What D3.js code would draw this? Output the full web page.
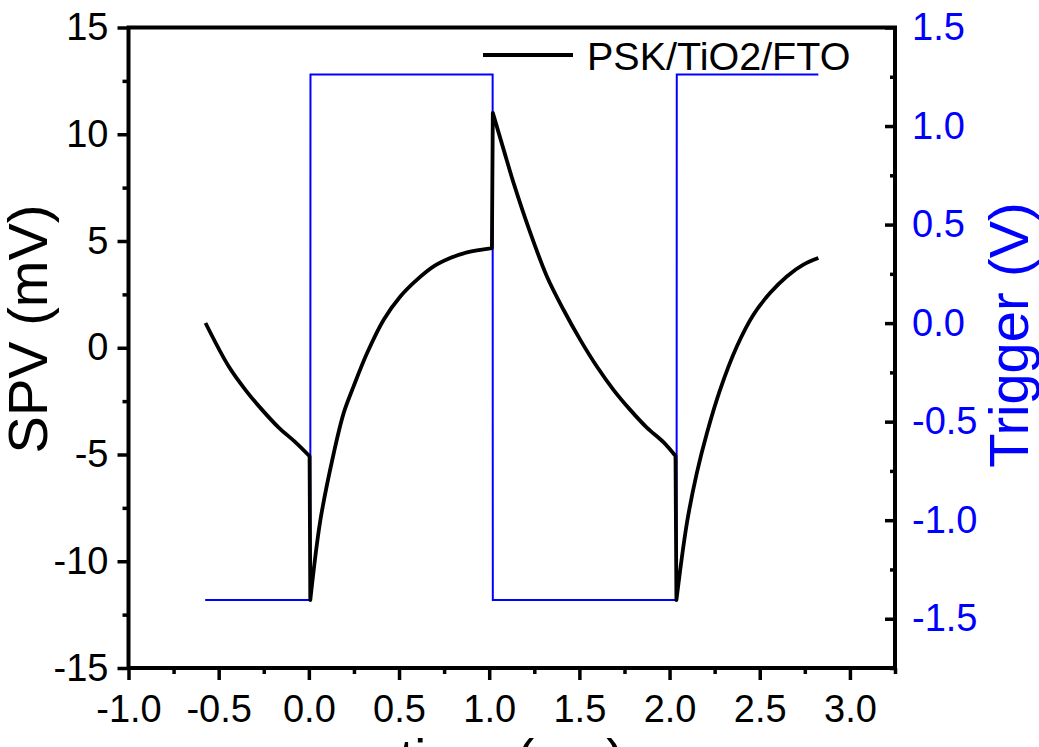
<!DOCTYPE html>
<html>
<head>
<meta charset="utf-8">
<script src="https://cdn.jsdelivr.net/npm/d3@7"></script>
<style>
  html, body { margin: 0; padding: 0; background: #fff; }
  svg { display: block; }
  text { font-family: "Liberation Sans", Arial, sans-serif; }
</style>
</head>
<body>
<svg id="chart" width="1039" height="747"></svg>
<script>
// ---- data ----
const spvTime = [-0.573, -0.444, -0.352, -0.259, -0.167, -0.075, 0.004, 0.008, 0.064, 0.138, 0.193, 0.248, 0.323, 0.415, 0.507, 0.600, 0.692, 0.784, 0.877, 1.015, 1.020, 1.080, 1.135, 1.228, 1.320, 1.412, 1.505, 1.597, 1.689, 1.782, 1.874, 1.966, 2.033, 2.038, 2.096, 2.151, 2.207, 2.280, 2.373, 2.465, 2.557, 2.650, 2.742, 2.825];
const spvValue = [1.16, -0.88, -1.97, -2.91, -3.74, -4.42, -5.08, -11.82, -8.07, -4.94, -3.06, -1.81, -0.25, 1.31, 2.40, 3.19, 3.81, 4.20, 4.47, 4.67, 11.00, 9.28, 7.72, 5.38, 3.34, 1.78, 0.37, -0.88, -1.97, -2.91, -3.74, -4.42, -5.07, -11.82, -8.22, -5.87, -4.00, -1.97, 0.06, 1.55, 2.56, 3.34, 3.89, 4.20];
const trigTime = [-0.575, 0.008, 0.009, 1.019, 1.020, 2.039, 2.040, 2.825];
const trigValue = [-1.405, -1.405, 1.261, 1.261, -1.405, -1.405, 1.261, 1.261];
const xTicks = [-1.0, -0.5, 0.0, 0.5, 1.0, 1.5, 2.0, 2.5, 3.0];
const xMinor = [-0.75, -0.25, 0.25, 0.75, 1.25, 1.75, 2.25, 2.75, 3.25];
const yTicks = [-15, -10, -5, 0, 5, 10, 15];
const yMinor = [-12.5, -7.5, -2.5, 2.5, 7.5, 12.5];
const y2Ticks = [-1.5, -1.0, -0.5, 0.0, 0.5, 1.0, 1.5];
const y2Minor = [-1.75, -1.25, -0.75, -0.25, 0.25, 0.75, 1.25];
const seriesName = "PSK/TiO2/FTO";

// ---- layout ----
const L = 128.5, R = 895, T = 27.5, B = 668;
const svg = d3.select("#chart");
const blue = "#0000ff";

const x = d3.scaleLinear().domain([-1, 3.25]).range([L, R]);
const y = d3.scaleLinear().domain([-15, 15]).range([B, T]);
const y2 = d3.scaleLinear().domain([-1.75, 1.5]).range([B, T]);

// data lines
const trig = trigTime.map((t, i) => [t, trigValue[i]]);
const spv = spvTime.map((t, i) => [t, spvValue[i]]);

svg.append("path")
  .datum(trig)
  .attr("fill", "none").attr("stroke", blue).attr("stroke-width", 2)
  .attr("d", d3.line().x(d => x(d[0])).y(d => y2(d[1])));

// split SPV into smooth pieces at the (near-vertical) jumps, join them into one path
const pieces = [[spv[0]]];
for (let i = 1; i < spv.length; i++) {
  if (spv[i][0] - spv[i - 1][0] < 0.006) pieces.push([]);
  pieces[pieces.length - 1].push(spv[i]);
}
const smooth = d3.line().curve(d3.curveCatmullRom.alpha(0.5)).x(d => x(d[0])).y(d => y(d[1]));
const spvPath = pieces.map((p, i) => {
  const s = smooth(p);
  return i === 0 ? s : "L" + s.slice(1);
}).join("");

svg.append("path")
  .attr("fill", "none").attr("stroke", "#000").attr("stroke-width", 3.8)
  .attr("stroke-linejoin", "round")
  .attr("d", spvPath);

// axes
const hy = s => s.replace("\u2212", "-");
const fmt1 = d => hy(d3.format(".1f")(d));
const fmt0 = d => hy(d3.format("d")(d));
function styleAxis(g, color, fs) {
  g.select(".domain").remove();
  g.selectAll(".tick line").attr("stroke", "#000").attr("stroke-width", 3.5);
  g.selectAll(".tick text").attr("fill", color).style("font-size", fs + "px")
    .style("font-family", '"Liberation Sans", Arial, sans-serif');
}

// bottom
svg.append("g").attr("transform", `translate(0,${B})`)
  .call(d3.axisBottom(x).tickValues(xMinor).tickSize(6).tickFormat(""))
  .call(g => styleAxis(g, "#000", 38));
svg.append("g").attr("transform", `translate(0,${B})`)
  .call(d3.axisBottom(x).tickValues(xTicks).tickSize(12).tickPadding(15).tickFormat(fmt1))
  .call(g => styleAxis(g, "#000", 38));

// left
svg.append("g").attr("transform", `translate(${L},0)`)
  .call(d3.axisLeft(y).tickValues(yMinor).tickSize(6).tickFormat(""))
  .call(g => styleAxis(g, "#000", 38));
svg.append("g").attr("transform", `translate(${L},0)`)
  .call(d3.axisLeft(y).tickValues(yTicks).tickSize(11).tickPadding(9).tickFormat(fmt0))
  .call(g => styleAxis(g, "#000", 38));

// right (inward ticks)
svg.append("g").attr("transform", `translate(${R},0)`)
  .call(d3.axisRight(y2).tickValues(y2Minor).tickSize(-5).tickFormat(""))
  .call(g => styleAxis(g, blue, 38));
svg.append("g").attr("transform", `translate(${R},0)`)
  .call(d3.axisRight(y2).tickValues(y2Ticks).tickSize(-10).tickPadding(17).tickFormat(fmt1))
  .call(g => styleAxis(g, blue, 38));

// frame
svg.append("rect")
  .attr("x", L).attr("y", T).attr("width", R - L).attr("height", B - T)
  .attr("fill", "none").attr("stroke", "#000").attr("stroke-width", 4);

// axis titles
svg.append("text")
  .attr("transform", `translate(47,329) rotate(-90)`)
  .attr("text-anchor", "middle")
  .style("font-size", "56px").attr("fill", "#000")
  .text("SPV (mV)");

svg.append("text")
  .attr("transform", `translate(1028,335) rotate(-90)`)
  .attr("text-anchor", "middle")
  .style("font-size", "56px").attr("fill", blue)
  .text("Trigger (V)");

svg.append("text")
  .attr("x", (L + R) / 2).attr("y", 777)
  .attr("text-anchor", "middle")
  .style("font-size", "54px").attr("fill", "#000")
  .text("time (ms)");

// legend
svg.append("line")
  .attr("x1", 483).attr("x2", 573).attr("y1", 55).attr("y2", 55)
  .attr("stroke", "#000").attr("stroke-width", 4);
svg.append("text")
  .attr("x", 587).attr("y", 70)
  .style("font-size", "39.5px").attr("fill", "#000")
  .text(seriesName);
</script>
</body>
</html>
